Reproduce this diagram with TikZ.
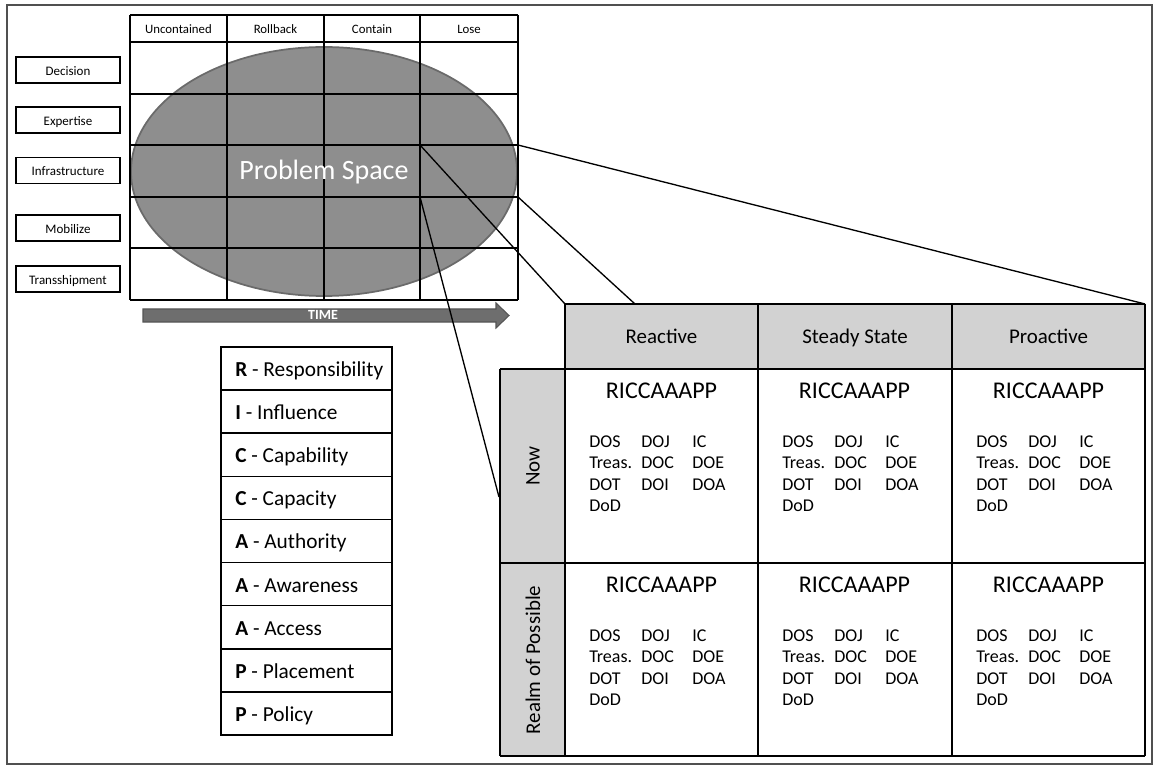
\documentclass[tikz,border=0pt]{standalone}
\usepackage{fontspec}
\setmainfont{Carlito}
\definecolor{ellfill}{HTML}{8E8E8E}
\definecolor{elldraw}{HTML}{6A6A6A}
\definecolor{hdrfill}{HTML}{D2D2D2}
\definecolor{arrfill}{HTML}{6E6E6E}
\definecolor{arrdraw}{HTML}{555555}
\definecolor{framec}{HTML}{505050}
\begin{document}
\begin{tikzpicture}[x=0.75pt,y=-0.75pt]
\useasboundingbox (0,0) rectangle (1155,766);
\tikzset{
  gridline/.style={draw=black,line width=1.1pt},
  tabline/.style={draw=black,line width=1.2pt},
  sidebox/.style={draw=black,line width=1.1pt,minimum width=78pt,minimum height=19.5pt,inner sep=0pt,text height=0.8em,text depth=0pt,font=\fontsize{9.75}{11}\selectfont},
  colhead/.style={anchor=base,font=\fontsize{9.6}{11}\selectfont,inner sep=0pt},
  legtext/.style={anchor=base west,inner sep=0pt,font=\fontsize{16}{19}\selectfont},
  thead/.style={anchor=base,font=\fontsize{15.7}{18}\selectfont,inner sep=0pt},
  bigcode/.style={anchor=base,font=\fontsize{18}{21}\selectfont,inner sep=0pt},
  agency/.style={anchor=base west,inner sep=0pt,font=\fontsize{13.5}{16}\selectfont},
  rowhead/.style={rotate=90,font=\fontsize{15.7}{18}\selectfont,inner sep=0pt},
  conn/.style={draw=black,line width=1pt}
}
% outer frame
\draw[framec,line width=1.1pt] (7,5) rectangle (1152,764);

% grid coordinates
\foreach \cx [count=\i from 0] in {130,227,324,420,518}{
  \foreach \ry [count=\j from 0] in {15,42,94,145,197,248,300}{
    \coordinate (g-\i-\j) at (\cx,\ry);
  }
}
% ellipse
\fill[ellfill] (324,171.5) ellipse [x radius=193, y radius=124.5];
\draw[elldraw,line width=1.3pt] (324,171.5) ellipse [x radius=193, y radius=124.5];
% grid lines
\foreach \i in {0,...,4}{ \draw[gridline] (g-\i-0) -- (g-\i-6); }
\foreach \j in {0,...,6}{ \draw[gridline] (g-0-\j) -- (g-4-\j); }
% column headings
\node[colhead] (hUn) at (178.5,33.5) {Uncontained};
\node[colhead] (hRo) at (275.5,33.5) {Rollback};
\node[colhead] (hCo) at (372,33.5) {Contain};
\node[colhead] (hLo) at (469,33.5) {Lose};
\node[white,font=\fontsize{21}{24}\selectfont,inner sep=0pt] (ps) at (324,172) {Problem Space};

% side boxes
\node[sidebox] (sDec) at (68,70) {Decision};
\node[sidebox] (sExp) at (68,120) {Expertise};
\node[sidebox] (sInf) at (68,170.5) {Infrastructure};
\node[sidebox] (sMob) at (68,228) {Mobilize};
\node[sidebox] (sTra) at (68,279) {Transshipment};

% time arrow
\draw[arrdraw,fill=arrfill,line width=0.8pt] (143,309) -- (496,309) -- (496,303) -- (509,315.5) -- (496,328) -- (496,322) -- (143,322) -- cycle;
\node[white,font=\bfseries\fontsize{10.5}{12}\selectfont,inner sep=0pt] (time) at (323,315) {TIME};

% legend
\foreach \t [count=\k from 0] in {{\textbf{R} - Responsibility},{\textbf{I} - Influence},{\textbf{C} - Capability},{\textbf{C} - Capacity},{\textbf{A} - Authority},{\textbf{A} - Awareness},{\textbf{A} - Access},{\textbf{P} - Placement},{\textbf{P} - Policy}}{
  \pgfmathsetmacro{\ytop}{347+43.1*\k}
  \draw[tabline] (221,\ytop) rectangle (392,\ytop+43.1);
  \node[legtext] (leg\k) at (235,\ytop+29.5) {\t};
}

% table
\fill[hdrfill] (565,304) rectangle (1145,369);
\fill[hdrfill] (500,369) rectangle (565,756);
\foreach \cx [count=\i from 0] in {500,565,758,952,1145}{
  \foreach \ry [count=\j from 0] in {304,369,563,756}{
    \coordinate (t-\i-\j) at (\cx,\ry);
  }
}
\draw[tabline] (t-1-0) -- (t-4-0);
\draw[tabline] (t-0-1) -- (t-4-1);
\draw[tabline] (t-0-2) -- (t-4-2);
\draw[tabline] (t-0-3) -- (t-4-3);
\draw[tabline] (t-0-1) -- (t-0-3);
\foreach \i in {1,...,4}{ \draw[tabline] (t-\i-0) -- (t-\i-3); }
\coordinate (tHR) at (635,304);

\node[thead] (thR) at (661.5,344) {Reactive};
\node[thead] (thS) at (855,344) {Steady State};
\node[thead] (thP) at (1048.5,344) {Proactive};
\node[rowhead] (rhN) at (533,466) {Now};
\node[rowhead] (rhR) at (533,660) {Realm of Possible};

\foreach \cl [count=\c] in {565,758,952}{
  \foreach \rt [count=\r] in {369,563}{
    \node[bigcode] (code-\c-\r) at (\cl+96.5,\rt+29.5) {RICCAAAPP};
    \node[agency] (a1-\c-\r) at (\cl+24,\rt+78) {DOS};
    \node[agency] (a2-\c-\r) at (\cl+76,\rt+78) {DOJ};
    \node[agency] (a3-\c-\r) at (\cl+127,\rt+78) {IC};
    \node[agency] (a4-\c-\r) at (\cl+24,\rt+99.5) {Treas.};
    \node[agency] (a5-\c-\r) at (\cl+76,\rt+99.5) {DOC};
    \node[agency] (a6-\c-\r) at (\cl+127,\rt+99.5) {DOE};
    \node[agency] (a7-\c-\r) at (\cl+24,\rt+121) {DOT};
    \node[agency] (a8-\c-\r) at (\cl+76,\rt+121) {DOI};
    \node[agency] (a9-\c-\r) at (\cl+127,\rt+121) {DOA};
    \node[agency] (a10-\c-\r) at (\cl+24,\rt+142.5) {DoD};
  }
}

% connectors
\coordinate (tNowL) at (499,497);
\draw[conn] (g-4-3) -- (t-4-0);
\draw[conn] (g-4-4) -- (tHR);
\draw[conn] (g-3-3) -- (t-1-0);
\draw[conn] (g-3-4) -- (tNowL);
\end{tikzpicture}
\end{document}
